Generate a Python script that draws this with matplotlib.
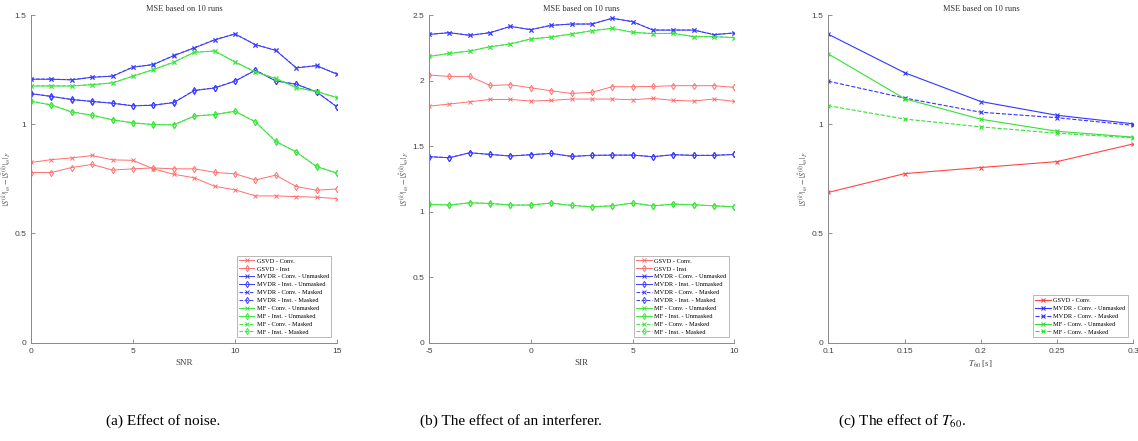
import matplotlib
matplotlib.use('Agg')
import matplotlib.pyplot as plt

plt.rcParams['mathtext.fontset'] = 'stix'

# (a) effect of noise
snr = list(range(0, 16))
a_gsvd_conv = [0.825, 0.838, 0.846, 0.857, 0.837, 0.835, 0.796, 0.771, 0.755, 0.716, 0.700, 0.672, 0.672, 0.669, 0.666, 0.660]
a_gsvd_inst = [0.779, 0.779, 0.802, 0.816, 0.790, 0.796, 0.800, 0.796, 0.796, 0.780, 0.773, 0.745, 0.767, 0.715, 0.698, 0.704]
a_mvdr_conv = [1.206, 1.206, 1.203, 1.215, 1.220, 1.261, 1.273, 1.314, 1.349, 1.386, 1.413, 1.364, 1.338, 1.258, 1.268, 1.229]
a_mvdr_inst = [1.140, 1.127, 1.113, 1.104, 1.096, 1.084, 1.087, 1.099, 1.154, 1.166, 1.197, 1.247, 1.198, 1.183, 1.148, 1.079]
a_mvdr_conv_m = [1.207, 1.207, 1.204, 1.216, 1.221, 1.262, 1.274, 1.315, 1.350, 1.387, 1.414, 1.365, 1.339, 1.259, 1.269, 1.230]
a_mvdr_inst_m = [1.141, 1.128, 1.114, 1.105, 1.097, 1.085, 1.088, 1.100, 1.155, 1.167, 1.198, 1.248, 1.199, 1.184, 1.149, 1.080]
a_mf_conv = [1.175, 1.175, 1.175, 1.181, 1.189, 1.220, 1.250, 1.284, 1.329, 1.335, 1.285, 1.239, 1.209, 1.168, 1.149, 1.122]
a_mf_inst = [1.105, 1.088, 1.056, 1.041, 1.020, 1.006, 0.998, 0.997, 1.037, 1.044, 1.059, 1.011, 0.921, 0.873, 0.806, 0.776]
a_mf_conv_m = [1.176, 1.176, 1.176, 1.182, 1.190, 1.221, 1.251, 1.285, 1.330, 1.336, 1.286, 1.240, 1.210, 1.169, 1.150, 1.123]
a_mf_inst_m = [1.106, 1.089, 1.057, 1.042, 1.021, 1.007, 0.999, 0.998, 1.038, 1.045, 1.060, 1.012, 0.922, 0.874, 0.807, 0.777]

# (b) effect of an interferer
sir = list(range(-5, 11))
b_gsvd_conv = [1.805, 1.821, 1.838, 1.856, 1.856, 1.844, 1.849, 1.859, 1.859, 1.859, 1.854, 1.864, 1.849, 1.844, 1.859, 1.841]
b_gsvd_inst = [2.042, 2.032, 2.032, 1.963, 1.968, 1.945, 1.922, 1.902, 1.910, 1.953, 1.953, 1.955, 1.961, 1.961, 1.961, 1.948]
b_mvdr_conv = [2.352, 2.365, 2.345, 2.365, 2.413, 2.388, 2.421, 2.431, 2.431, 2.475, 2.449, 2.385, 2.385, 2.385, 2.350, 2.363]
b_mvdr_inst = [1.419, 1.411, 1.449, 1.436, 1.424, 1.434, 1.444, 1.421, 1.429, 1.431, 1.431, 1.419, 1.434, 1.429, 1.429, 1.436]
b_mvdr_conv_m = [2.353, 2.366, 2.346, 2.366, 2.414, 2.389, 2.422, 2.432, 2.432, 2.476, 2.450, 2.386, 2.386, 2.386, 2.351, 2.364]
b_mvdr_inst_m = [1.420, 1.412, 1.450, 1.437, 1.425, 1.435, 1.445, 1.422, 1.430, 1.432, 1.432, 1.420, 1.435, 1.430, 1.430, 1.437]
b_mf_conv = [2.184, 2.207, 2.225, 2.258, 2.279, 2.317, 2.332, 2.355, 2.380, 2.398, 2.368, 2.358, 2.360, 2.335, 2.335, 2.327]
b_mf_inst = [1.055, 1.050, 1.067, 1.062, 1.050, 1.050, 1.065, 1.047, 1.037, 1.044, 1.065, 1.044, 1.057, 1.052, 1.044, 1.037]
b_mf_conv_m = [2.185, 2.208, 2.226, 2.259, 2.280, 2.318, 2.333, 2.356, 2.381, 2.399, 2.369, 2.359, 2.361, 2.336, 2.336, 2.328]
b_mf_inst_m = [1.056, 1.051, 1.068, 1.063, 1.051, 1.051, 1.066, 1.048, 1.038, 1.045, 1.066, 1.045, 1.058, 1.053, 1.045, 1.038]

# (c) effect of T60
t60 = [0.1, 0.15, 0.2, 0.25, 0.3]
c_gsvd_conv = [0.688, 0.774, 0.802, 0.829, 0.910]
c_mvdr_conv = [1.412, 1.236, 1.104, 1.041, 1.002]
c_mvdr_conv_m = [1.197, 1.120, 1.055, 1.030, 0.995]
c_mf_conv = [1.322, 1.117, 1.023, 0.968, 0.941]
c_mf_conv_m = [1.085, 1.024, 0.988, 0.959, 0.938]

red = '#ff6e6e'
blue = '#3c3cff'
green = '#3ce63c'

names10 = ['GSVD - Conv.', 'GSVD - Inst', 'MVDR - Conv. - Unmasked', 'MVDR - Inst. - Unmasked',
           'MVDR - Conv. - Masked', 'MVDR - Inst. - Masked', 'MF - Conv. - Unmasked',
           'MF - Inst. - Unmasked', 'MF - Conv. - Masked', 'MF - Inst. - Masked']
styles10 = [(red, '-', 'x'), (red, '-', 'd'), (blue, '-', 'x'), (blue, '-', 'd'),
            (blue, '--', 'x'), (blue, '--', 'd'), (green, '-', 'x'), (green, '-', 'd'),
            (green, '--', 'x'), (green, '--', 'd')]

serif = 'Liberation Serif'
sans = 'Liberation Sans'
ylab = r'$|S^{(k)}|_{\omega} - |\hat{S}^{(k)}|_{\omega}|_F$'


def style_axes(ax, xt, xl, yt, yl, xlim, ylim, xlabel):
    ax.set_xlim(xlim)
    ax.set_ylim(ylim)
    ax.set_xticks(xt)
    ax.set_xticklabels(xl, fontsize=6, fontfamily=sans, color='#444444')
    ax.set_yticks(yt)
    ax.set_yticklabels(yl, fontsize=6, fontfamily=sans, color='#444444')
    ax.tick_params(direction='in', length=3, width=0.5, color='#666666')
    for s in ['top', 'right']:
        ax.spines[s].set_visible(False)
    for s in ['left', 'bottom']:
        ax.spines[s].set_color('#888888')
        ax.spines[s].set_linewidth(0.7)
    ax.set_title('MSE based on 10 runs', fontsize=6, fontfamily=serif, color='#333333', pad=3)
    ax.set_xlabel(xlabel, fontsize=6.5, fontfamily=serif, color='#444444', labelpad=3)
    ax.set_ylabel(ylab, fontsize=6, color='#555555')
    ax.yaxis.set_label_coords(-0.06, 0.5)


def legend(ax):
    leg = ax.legend(loc='lower right', prop={'family': serif, 'size': 4.6}, frameon=True,
                    fancybox=False, edgecolor='#999999', borderaxespad=0.9,
                    handlelength=2.4, handletextpad=0.4, labelspacing=0.38, borderpad=0.35)
    leg.get_frame().set_linewidth(0.6)


fig = plt.figure(figsize=(11.38, 4.41), dpi=100)
ax1 = fig.add_axes([0.0272, 0.2229, 0.2689, 0.743])
ax2 = fig.add_axes([0.3770, 0.2229, 0.2683, 0.743])
ax3 = fig.add_axes([0.7279, 0.2229, 0.2680, 0.743])

a_data = [a_gsvd_conv, a_gsvd_inst, a_mvdr_conv, a_mvdr_inst, a_mvdr_conv_m, a_mvdr_inst_m,
          a_mf_conv, a_mf_inst, a_mf_conv_m, a_mf_inst_m]
for d, n, (c, ls, m) in zip(a_data, names10, styles10):
    ax1.plot(snr, d, color=c, ls=ls, marker=m, ms=3.2, mew=0.7, mfc='none', lw=0.7, label=n)
style_axes(ax1, [0, 5, 10, 15], ['0', '5', '10', '15'], [0, 0.5, 1, 1.5], ['0', '0.5', '1', '1.5'],
           (0, 15), (0, 1.5), 'SNR')
legend(ax1)

b_data = [b_gsvd_conv, b_gsvd_inst, b_mvdr_conv, b_mvdr_inst, b_mvdr_conv_m, b_mvdr_inst_m,
          b_mf_conv, b_mf_inst, b_mf_conv_m, b_mf_inst_m]
for d, n, (c, ls, m) in zip(b_data, names10, styles10):
    ax2.plot(sir, d, color=c, ls=ls, marker=m, ms=3.2, mew=0.7, mfc='none', lw=0.7, label=n)
style_axes(ax2, [-5, 0, 5, 10], ['-5', '0', '5', '10'], [0, 0.5, 1, 1.5, 2, 2.5],
           ['0', '0.5', '1', '1.5', '2', '2.5'], (-5, 10), (0, 2.5), 'SIR')
legend(ax2)

names5 = ['GSVD - Conv.', 'MVDR - Conv. - Unmasked', 'MVDR - Conv. - Masked',
          'MF - Conv. - Unmasked', 'MF - Conv. - Masked']
styles5 = [('#ff4646', '-'), ('#3535ff', '-'), ('#3535ff', '--'), ('#35e035', '-'), ('#35e035', '--')]
c_data = [c_gsvd_conv, c_mvdr_conv, c_mvdr_conv_m, c_mf_conv, c_mf_conv_m]
for d, n, (c, ls) in zip(c_data, names5, styles5):
    ax3.plot(t60, d, color=c, ls=ls, marker='x', ms=3.5, mew=0.8, lw=0.8, label=n)
style_axes(ax3, t60, ['0.1', '0.15', '0.2', '0.25', '0.3'], [0, 0.5, 1, 1.5],
           ['0', '0.5', '1', '1.5'], (0.1, 0.3), (0, 1.5), r'$T_{60}$ [s]')
legend(ax3)

fig.text(163 / 1138, 1 - 421 / 441, '(a) Effect of noise.', ha='center', va='center',
         fontsize=11, fontfamily=serif)
fig.text(511 / 1138, 1 - 421 / 441, '(b) The effect of an interferer.', ha='center', va='center',
         fontsize=11, fontfamily=serif)
fig.text(902 / 1138, 1 - 421 / 441, r'(c) The effect of $T_{60}$.', ha='center', va='center',
         fontsize=11, fontfamily=serif)

fig.savefig('out.png', dpi=100)
